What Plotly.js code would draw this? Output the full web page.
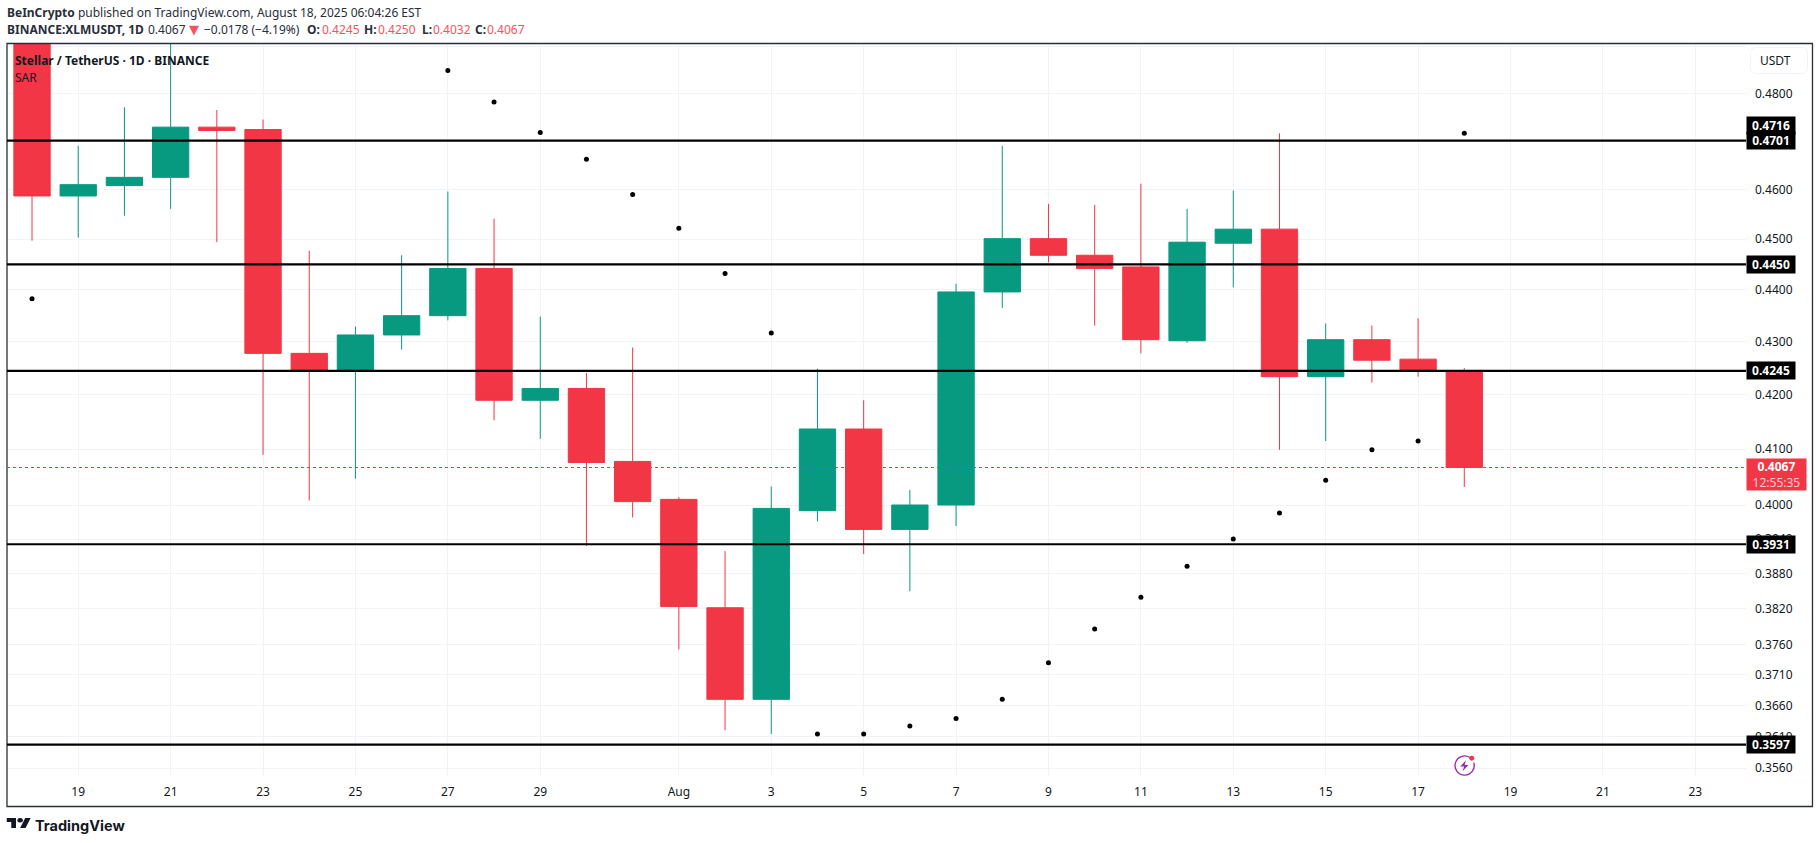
<!DOCTYPE html>
<html><head><meta charset="utf-8">
<script src="https://cdn.plot.ly/plotly-3.0.1.min.js"></script>
<style>html,body{margin:0;padding:0;background:#fff;overflow:hidden}#c{width:1819px;height:843px}</style>
</head><body><div id="c"></div>
<script>
const dates=["2025-07-18","2025-07-19","2025-07-20","2025-07-21","2025-07-22","2025-07-23","2025-07-24","2025-07-25","2025-07-26","2025-07-27","2025-07-28","2025-07-29","2025-07-30","2025-07-31","2025-08-01","2025-08-02","2025-08-03","2025-08-04","2025-08-05","2025-08-06","2025-08-07","2025-08-08","2025-08-09","2025-08-10","2025-08-11","2025-08-12","2025-08-13","2025-08-14","2025-08-15","2025-08-16","2025-08-17","2025-08-18"];
const opens=[.5000,.4587,.4608,.4625,.4729,.4724,.4278,.4245,.4313,.4350,.4442,.4190,.4212,.4078,.4010,.3822,.3670,.3990,.4137,.3957,.4000,.4396,.4501,.4468,.4445,.4302,.4492,.4520,.4234,.4304,.4267,.4245];
const highs=[.5100,.4690,.4771,.4930,.4765,.4745,.4477,.4329,.4468,.4596,.4541,.4348,.4241,.4289,.4014,.3919,.4033,.4249,.4190,.4027,.4412,.4690,.4571,.4569,.4612,.4561,.4598,.4716,.4335,.4331,.4345,.4250];
const lows=[.4497,.4503,.4547,.4561,.4494,.4090,.4008,.4047,.4285,.4341,.4153,.4119,.3928,.3978,.3752,.3620,.3614,.3971,.3914,.3850,.3963,.4365,.4454,.4331,.4278,.4298,.4405,.4099,.4115,.4223,.4234,.4032];
const closes=[.4587,.4610,.4625,.4729,.4722,.4278,.4245,.4313,.4350,.4442,.4190,.4212,.4076,.4006,.3824,.3670,.3994,.4137,.3957,.4000,.4396,.4501,.4468,.4442,.4304,.4494,.4520,.4234,.4304,.4265,.4245,.4067];
const sarDates=["2025-07-18","2025-07-27","2025-07-28","2025-07-29","2025-07-30","2025-07-31","2025-08-01","2025-08-02","2025-08-03","2025-08-04","2025-08-05","2025-08-06","2025-08-07","2025-08-08","2025-08-09","2025-08-10","2025-08-11","2025-08-12","2025-08-13","2025-08-14","2025-08-15","2025-08-16","2025-08-17","2025-08-18"];
const sarValues=[.4383,.4849,.4782,.4718,.4662,.4590,.4522,.4432,.4317,.3614,.3614,.3627,.3639,.3670,.3730,.3786,.3840,.3893,.3940,.3986,.4044,.4099,.4115,.4716];
const levels=[.4701,.4450,.4245,.3931,.3597];
const lastPrice=.4067;
const sarLast=.4716;
const yTicks=[.49,.48,.46,.45,.44,.43,.42,.41,.40,.394,.388,.382,.376,.371,.366,.361,.356];
const yTickText=["","0.4800","0.4600","0.4500","0.4400","0.4300","0.4200","0.4100","0.4000","0.3940","0.3880","0.3820","0.3760","0.3710","0.3660","0.3610","0.3560"];
const xTicks=["2025-07-19","2025-07-21","2025-07-23","2025-07-25","2025-07-27","2025-07-29","2025-08-01","2025-08-03","2025-08-05","2025-08-07","2025-08-09","2025-08-11","2025-08-13","2025-08-15","2025-08-17","2025-08-19","2025-08-21","2025-08-23"];
const xTickText=["19","21","23","25","27","29","Aug","3","5","7","9","11","13","15","17","19","21","23"];
const headerSegments=[
 [148,"0.4067"],[204,"−0.0178 (−4.19%)"],
 [307,"<b>O:</b>"],[322,"0.4245",1],[364,"<b>H:</b>"],[378,"0.4250",1],
 [422,"<b>L:</b>"],[433,"0.4032",1],[475,"<b>C:</b>"],[487,"0.4067",1]
];

const W=1819,H=843,L=6.5,R=1746,T=44,B=777;
const px=x=>(x-L)/(R-L), py=y=>(B-y)/(B-T);
const RED="#F23645",SOFT="#F7525F",GREEN="#089981",INK="#131722",HEAD="#2a2e39",FONT='"Noto Sans",sans-serif';
const svg=s=>"data:image/svg+xml;base64,"+btoa(s);
const note=(x,y,text,o={})=>Object.assign({xref:"paper",yref:"paper",x:px(x-2),y:py(y),text,showarrow:false,xanchor:"left",yanchor:"middle",align:"left",font:{family:FONT,size:12,color:INK}},o);
const priceTag=(v,text,extra={})=>Object.assign({xref:"paper",yref:"y",x:px(R),y:Math.log10(v),text,showarrow:false,xanchor:"left",yanchor:"middle",align:"center",bgcolor:"#000",width:44,height:13,borderpad:2,font:{family:FONT,size:12,color:"#fff"}},extra);

const logo=`<svg xmlns="http://www.w3.org/2000/svg" viewBox="0 4 36 18" width="72" height="30" preserveAspectRatio="none"><path fill="#131722" d="M14 22H7V11H0V4h14v18zM28 22h-8l7.5-18h8L28 22z"/><circle fill="#131722" cx="20" cy="8" r="4"/></svg>`;
const bolt=`<svg xmlns="http://www.w3.org/2000/svg" viewBox="0 0 24 24" width="24" height="24"><path d="M17.5 3.6A10 10 0 1 0 21.6 9" fill="none" stroke="#9C27B0" stroke-width="1.4"/><path d="M13.5 6.5 7.5 13h4l-1.5 5 6-6.5h-4z" fill="#9C27B0"/><circle cx="19.5" cy="4.5" r="2.6" fill="#F23645"/></svg>`;
const btn=`<svg xmlns="http://www.w3.org/2000/svg" viewBox="0 0 58 27" width="58" height="27"><rect x=".5" y=".5" width="57" height="26" rx="5" fill="#fff" stroke="#f0f3fa"/></svg>`;

const traces=[
{type:"candlestick",x:dates,open:opens,high:highs,low:lows,close:closes,
 increasing:{line:{color:GREEN,width:1},fillcolor:GREEN},
 decreasing:{line:{color:RED,width:1},fillcolor:RED},
 whiskerwidth:0,showlegend:false,hoverinfo:"x+y"},
{type:"scatter",mode:"markers",x:sarDates,y:sarValues,marker:{color:"#000",size:5},showlegend:false,name:"SAR"}
];
const shapes=[
 {type:"rect",xref:"paper",yref:"paper",x0:px(6.5),x1:px(1812.5),y0:py(806.5),y1:py(43.5),line:{color:"#2a2e39",width:1.3},fillcolor:"rgba(0,0,0,0)",layer:"above"},
 {type:"line",xref:"paper",yref:"y",x0:0,x1:1,y0:lastPrice,y1:lastPrice,line:{color:RED,width:1,dash:"dot"},layer:"above"}
].concat(levels.map(v=>({type:"line",xref:"paper",yref:"y",x0:0,x1:1,y0:v,y1:v,line:{color:"#000",width:2.2},layer:"above"})));

const headFont={family:FONT,size:12,color:HEAD};
const annotations=[
 note(6.7,12.5,'<b>BeInCrypto</b> published on TradingView.com, August 18, 2025 06:04:26 EST',{font:headFont}),
 note(6.7,29.5,'<b>BINANCE:XLMUSDT, 1D</b>',{font:headFont}),
 note(189,29.5,'▼',{font:{family:"DejaVu Sans",size:13,color:SOFT}}),
 ...headerSegments.map(s=>note(s[0],29.5,s[1],{font:{family:FONT,size:12,color:s[2]?SOFT:HEAD}})),
 note(15,60.5,'<b>Stellar / TetherUS · 1D · BINANCE</b>',{font:{family:FONT,size:12,color:INK}}),
 note(15,77.5,'SAR',{font:{family:FONT,size:12,color:INK}}),
 note(1760,61,'USDT',{font:{family:FONT,size:12,color:INK}}),
 note(35,825,'<b>TradingView</b>',{font:{family:"Inter,"+FONT,size:14.5,color:INK}}),
 priceTag(sarLast,'<b>0.4716</b>',{yshift:8}),
 ...levels.map(v=>priceTag(v,'<b>'+v.toFixed(4)+'</b>')),
 priceTag(lastPrice,`<b>0.4067</b><br><span style="color:#fbd0d4;font-size:12px">12:55:35</span>`,{bgcolor:RED,width:55,height:27,yshift:-7})
];
const images=[
 {source:svg(logo),xref:"paper",yref:"paper",x:px(6),y:py(818),sizex:px(30.5)-px(6),sizey:py(818)-py(828),xanchor:"left",yanchor:"top",sizing:"stretch",layer:"above"},
 {source:svg(bolt),xref:"paper",yref:"paper",x:px(1453),y:py(754),sizex:px(1476)-px(1453),sizey:py(754)-py(777),xanchor:"left",yanchor:"top",sizing:"stretch",layer:"above"},
 {source:svg(btn),xref:"paper",yref:"paper",x:px(1750),y:py(47),sizex:px(1808)-px(1750),sizey:py(47)-py(74),xanchor:"left",yanchor:"top",sizing:"stretch",layer:"above"}
];
const layout={
 width:W,height:H,autosize:false,showlegend:false,
 paper_bgcolor:"#fff",plot_bgcolor:"#fff",
 margin:{l:L,r:W-R,t:T,b:H-B,pad:0},
 boxgap:0.214,boxgroupgap:0,
 xaxis:{type:"date",range:["2025-07-17 11:00","2025-08-24 02:20"],rangeslider:{visible:false},
  tickmode:"array",tickvals:xTicks,ticktext:xTickText,ticks:"",ticklabelstandoff:6,
  showgrid:true,gridcolor:"#f0f3f7",gridwidth:1,zeroline:false,showline:false,
  tickfont:{family:FONT,size:12,color:INK},fixedrange:true},
 yaxis:{type:"log",side:"right",range:[-0.45028,-0.30923],
  tickmode:"array",tickvals:yTicks,ticktext:yTickText,ticks:"",ticklabelstandoff:8,
  showgrid:true,gridcolor:"#f0f3f7",gridwidth:1,zeroline:false,showline:false,
  tickfont:{family:FONT,size:12,color:INK},fixedrange:true},
 shapes,annotations,images,hovermode:false
};
Plotly.newPlot("c",traces,layout,{displayModeBar:false,staticPlot:true});
</script></body></html>
